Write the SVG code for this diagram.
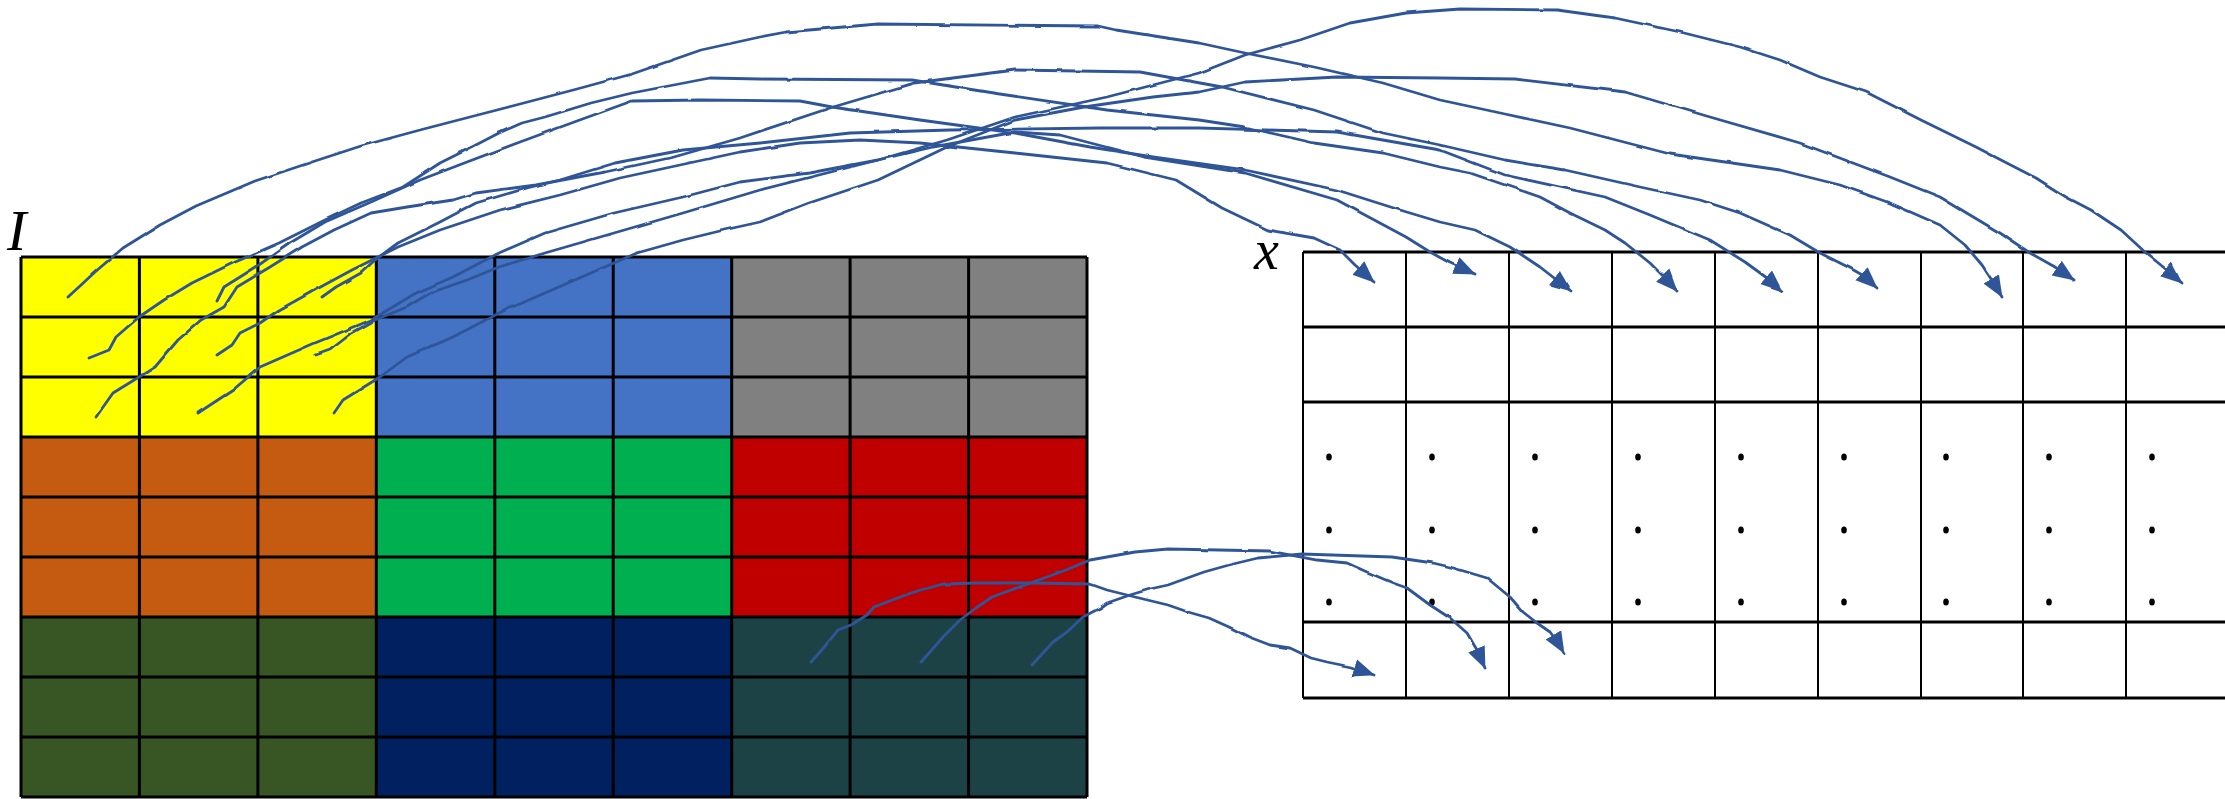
<svg xmlns="http://www.w3.org/2000/svg" width="2225" height="799" viewBox="0 0 2225 799">
<style>
.grid{stroke:#000;stroke-width:3;fill:none}
.rg{stroke:#000;stroke-width:2.8;fill:none}
.rv{stroke:#000;stroke-width:2;fill:none}
.lab{font-family:"Liberation Serif",serif;font-style:italic;fill:#000}
.c{fill:none;stroke:#2F5597;stroke-width:2.8;stroke-linejoin:round;stroke-linecap:round;marker-end:url(#ah)}
.dot{fill:#000}
</style>
<defs>
<marker id="ah" markerUnits="userSpaceOnUse" markerWidth="24" markerHeight="20" refX="21" refY="10" orient="auto">
<path d="M0,1 L22,10 L0,19 z" fill="#2F5597"/>
</marker>
<filter id="wob" filterUnits="userSpaceOnUse" x="0" y="0" width="2225" height="799">
<feTurbulence type="fractalNoise" baseFrequency="0.05" numOctaves="1" seed="3"/>
<feDisplacementMap in="SourceGraphic" scale="2.5" xChannelSelector="R" yChannelSelector="G"/>
</filter>
</defs>
<rect width="2225" height="799" fill="#fff"/>

<g id="I-grid">
<g id="block-yellow"><rect x="21" y="257" width="355.3" height="180" fill="#FFFF00"/></g>
<g id="block-blue"><rect x="376.3" y="257" width="355.4" height="180" fill="#4472C4"/></g>
<g id="block-gray"><rect x="731.7" y="257" width="355.3" height="180" fill="#808080"/></g>
<g id="block-orange"><rect x="21" y="437" width="355.3" height="180" fill="#C55A11"/></g>
<g id="block-green"><rect x="376.3" y="437" width="355.4" height="180" fill="#00B050"/></g>
<g id="block-red"><rect x="731.7" y="437" width="355.3" height="180" fill="#C00000"/></g>
<g id="block-darkgreen"><rect x="21" y="617" width="355.3" height="180" fill="#375623"/></g>
<g id="block-navy"><rect x="376.3" y="617" width="355.4" height="180" fill="#002060"/></g>
<g id="block-teal"><rect x="731.7" y="617" width="355.3" height="180" fill="#1C4246"/></g>
<path class="grid" d="M21,257H1087M21,317H1087M21,377H1087M21,437H1087M21,497H1087M21,557H1087M21,617H1087M21,677H1087M21,737H1087M21,797H1087
M21,257V797M139.4,257V797M257.9,257V797M376.3,257V797M494.8,257V797M613.2,257V797M731.7,257V797M850.1,257V797M968.6,257V797M1087,257V797"/>
<text class="lab" x="7" y="250" font-size="58">I</text>
</g>

<g id="x-grid">
<path class="rg" d="M1303,252H2225M1303,327H2225M1303,402H2225M1303,622H2225M1303,698H2225"/>
<path class="rv" d="M1303,252V698M1406,252V698M1509,252V698M1612,252V698M1715,252V698M1818,252V698M1921,252V698M2023,252V698M2126,252V698"/>
<g id="dots">
<ellipse class="dot" cx="1329" cy="457" rx="2.8" ry="3.6"/><ellipse class="dot" cx="1432" cy="457" rx="2.8" ry="3.6"/><ellipse class="dot" cx="1535" cy="457" rx="2.8" ry="3.6"/><ellipse class="dot" cx="1638" cy="457" rx="2.8" ry="3.6"/><ellipse class="dot" cx="1741" cy="457" rx="2.8" ry="3.6"/><ellipse class="dot" cx="1844" cy="457" rx="2.8" ry="3.6"/><ellipse class="dot" cx="1946" cy="457" rx="2.8" ry="3.6"/><ellipse class="dot" cx="2049" cy="457" rx="2.8" ry="3.6"/><ellipse class="dot" cx="2152" cy="457" rx="2.8" ry="3.6"/>
<ellipse class="dot" cx="1329" cy="530" rx="2.8" ry="3.6"/><ellipse class="dot" cx="1432" cy="530" rx="2.8" ry="3.6"/><ellipse class="dot" cx="1535" cy="530" rx="2.8" ry="3.6"/><ellipse class="dot" cx="1638" cy="530" rx="2.8" ry="3.6"/><ellipse class="dot" cx="1741" cy="530" rx="2.8" ry="3.6"/><ellipse class="dot" cx="1844" cy="530" rx="2.8" ry="3.6"/><ellipse class="dot" cx="1946" cy="530" rx="2.8" ry="3.6"/><ellipse class="dot" cx="2049" cy="530" rx="2.8" ry="3.6"/><ellipse class="dot" cx="2152" cy="530" rx="2.8" ry="3.6"/>
<ellipse class="dot" cx="1329" cy="602" rx="2.8" ry="3.6"/><ellipse class="dot" cx="1432" cy="602" rx="2.8" ry="3.6"/><ellipse class="dot" cx="1535" cy="602" rx="2.8" ry="3.6"/><ellipse class="dot" cx="1638" cy="602" rx="2.8" ry="3.6"/><ellipse class="dot" cx="1741" cy="602" rx="2.8" ry="3.6"/><ellipse class="dot" cx="1844" cy="602" rx="2.8" ry="3.6"/><ellipse class="dot" cx="1946" cy="602" rx="2.8" ry="3.6"/><ellipse class="dot" cx="2049" cy="602" rx="2.8" ry="3.6"/><ellipse class="dot" cx="2152" cy="602" rx="2.8" ry="3.6"/>
</g>
<text class="lab" x="1254" y="269" font-size="56">x</text>
</g>

<g id="connectors" filter="url(#wob)">
<path class="c" d="M68,297 L80,286 L95,272 L123,248 L160,225 L196,206 L255,181 L315,161 L361,146 L420,130 L470,117 L520,104 L577,89 L632,74 L701,50 L760,37 L786,32 L878,24 L1098,26 L1116,30 L1199,43 L1245,53 L1314,67 L1383,83 L1440,100 L1505,114 L1570,128 L1670,154 L1780,170 L1840,185 L1890,203 L1940,225 L1965,245 L1982,265 L1993,282 L2002,297"/>
<path class="c" d="M217,301 L224,287 L256,267 L290,243 L325,222 L371,202 L420,180 L467,162 L520,142 L577,121 L632,101 L700,100 L800,101 L832,107 L920,120 L1015,133 L1090,147 L1153,157 L1245,170 L1337,190 L1400,210 L1440,222 L1475,230 L1510,247 L1540,267 L1558,281 L1571,291"/>
<path class="c" d="M322,297 L336,287 L361,273 L375,260 L398,243 L440,222 L476,203 L527,188 L560,180 L615,163 L683,150 L760,143 L850,133 L950,130 L1100,128 L1199,128 L1337,132 L1440,150 L1505,175 L1605,197 L1650,215 L1710,240 L1745,262 L1767,278 L1782,291"/>
<path class="c" d="M89,358 L109,350 L116,337 L139,317 L164,300 L192,283 L233,263 L279,243 L325,220 L361,203 L403,187 L440,163 L472,147 L499,133 L522,123 L545,117 L591,103 L632,93 L710,78 L760,79 L912,80 L993,93 L1107,110 L1199,120 L1245,127 L1314,143 L1383,153 L1440,167 L1470,173 L1505,185 L1540,197 L1570,213 L1605,230 L1625,243 L1650,263 L1665,278 L1677,291"/>
<path class="c" d="M217,355 L232,345 L240,333 L260,323 L279,310 L315,290 L352,270 L398,247 L440,230 L500,210 L560,195 L620,178 L680,165 L740,152 L800,143 L860,140 L920,143 L1015,153 L1107,163 L1176,180 L1222,208 L1268,230 L1314,238 L1340,250 L1355,265 L1374,282"/>
<path class="c" d="M316,355 L330,350 L352,333 L375,320 L407,307 L430,293 L467,280 L499,267 L545,253 L614,233 L683,213 L760,190 L878,160 L947,140 L1015,117 L1107,97 L1199,73 L1245,55 L1300,40 L1350,23 L1406,13 L1460,9 L1557,10 L1615,18 L1680,32 L1740,47 L1780,60 L1820,77 L1866,92 L1921,120 L1976,147 L2001,160 L2036,178 L2066,197 L2091,210 L2121,230 L2146,253 L2162,266 L2182,283"/>
<path class="c" d="M96,417 L113,393 L139,377 L155,367 L178,340 L201,320 L224,307 L237,287 L270,267 L302,247 L334,230 L371,213 L407,207 L453,200 L476,193 L536,185 L605,172 L674,157 L740,138 L830,108 L914,83 L1015,70 L1140,72 L1222,87 L1314,110 L1383,133 L1440,145 L1505,160 L1565,170 L1640,187 L1700,200 L1740,213 L1790,235 L1820,253 L1850,268 L1864,276 L1877,288"/>
<path class="c" d="M198,413 L233,390 L260,367 L315,343 L371,320 L416,293 L453,277 L499,253 L545,233 L614,213 L683,197 L740,182 L809,173 L878,160 L933,147 L1015,132 L1060,135 L1144,157 L1245,173 L1337,200 L1406,237 L1430,252 L1450,263 L1475,274"/>
<path class="c" d="M334,413 L343,400 L380,377 L407,357 L453,337 L499,313 L545,293 L591,273 L637,253 L683,240 L724,230 L760,222 L809,203 L878,180 L947,147 L1015,120 L1084,107 L1153,97 L1199,92 L1245,82 L1337,77 L1440,78 L1515,79 L1625,92 L1710,117 L1800,143 L1890,177 L1940,197 L2000,233 L2030,253 L2055,267 L2074,280"/>
<path class="c" d="M811,662 L820,652 L830,640 L838,630 L851,625 L867,615 L874,607 L887,602 L911,593 L943,584 L976,583 L1033,583 L1090,584 L1107,590 L1135,597 L1168,605 L1188,612 L1209,618 L1229,627 L1249,637 L1270,645 L1290,648 L1311,658 L1327,662 L1351,667 L1374,675"/>
<path class="c" d="M921,662 L930,652 L943,637 L960,620 L976,608 L992,597 L1025,585 L1066,570 L1090,560 L1135,552 L1168,549 L1270,551 L1317,560 L1347,563 L1367,572 L1393,583 L1407,588 L1430,605 L1450,618 L1467,633 L1477,650 L1485,668"/>
<path class="c" d="M1032,665 L1043,653 L1053,642 L1067,632 L1083,617 L1100,608 L1107,603 L1130,595 L1150,589 L1168,585 L1204,572 L1229,565 L1258,558 L1302,554 L1392,557 L1433,563 L1450,567 L1467,572 L1487,578 L1510,597 L1523,612 L1537,623 L1550,632 L1557,641 L1564,653"/>
</g>
</svg>
